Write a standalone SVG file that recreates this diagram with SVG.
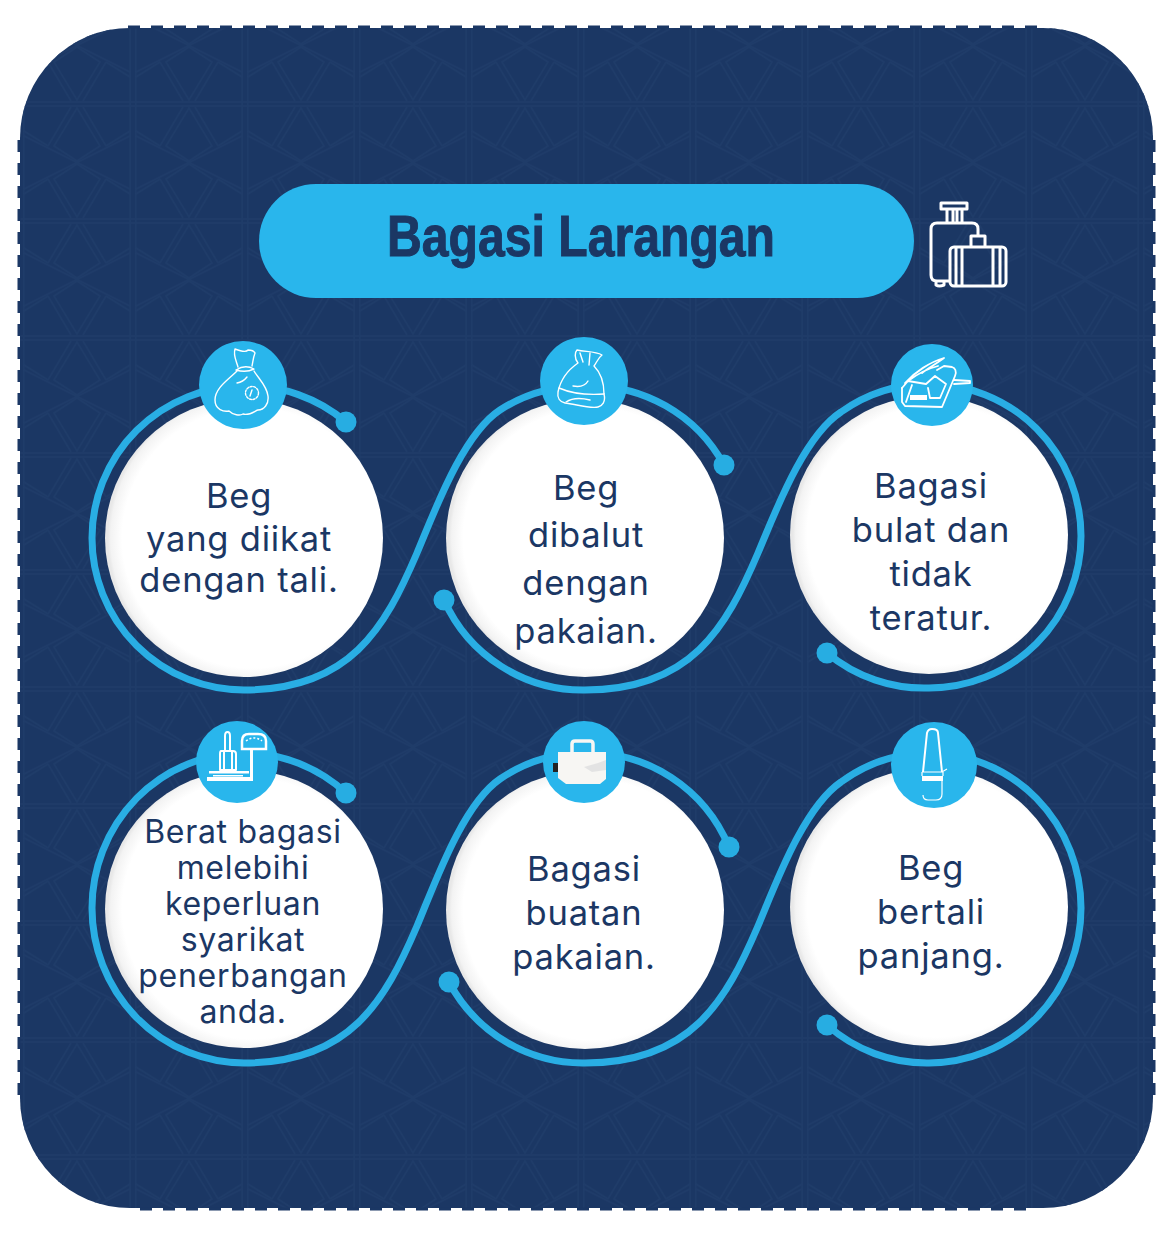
<svg xmlns="http://www.w3.org/2000/svg" width="1173" height="1237" viewBox="0 0 1173 1237">
<style>
.label{font-family:"Inter","Noto Sans",sans-serif;font-size:34.500px;letter-spacing:.8px;fill:#1b3764;text-anchor:middle}
.small{font-size:32px;letter-spacing:.7px}
.disc{fill:url(#disc)}
.badge{fill:#29b6ec}
.line{fill:none;stroke:#29aee4;stroke-width:7;stroke-linecap:round}
.dot{fill:#27ade2}
.ico{fill:none;stroke:#fff;stroke-width:1.4;stroke-linejoin:round;stroke-linecap:round}
.ico2{fill:none;stroke:#fff;stroke-width:3;stroke-linejoin:round}
.solid{fill:#fff}
.edge{stroke:#1b3764;stroke-width:3;stroke-dasharray:12 11;fill:none}
</style>
<defs>
<radialGradient id="disc" cx="0.53" cy="0.5" r="0.52">
<stop offset="0.9" stop-color="#fff"/><stop offset="0.98" stop-color="#f3f3f3"/><stop offset="1" stop-color="#e8e8e8"/>
</radialGradient>
<pattern id="lattice" width="112" height="117" patternUnits="userSpaceOnUse" x="21" y="-13">
<g fill="none" stroke="#1f3c69" stroke-width="1.500">
<path d="M2.800 0V117M109.200 0V117M0 2H112M0 115H112"/>
<path d="M3 32L109 85M3 85L109 32"/>
<path d="M27 42L50 3M85 42L62 3M27 42L3 27M85 42L109 27M56 57L79 42L56 4L33 42Z"/>
<path d="M27 75L50 114M85 75L62 114M27 75L3 90M85 75L109 90M56 60L79 75L56 113L33 75Z"/>
</g>
</pattern>
</defs>
<g id="background">
<rect x="20" y="28" width="1133" height="1180" rx="110" fill="#1b3764"/>
<rect x="20" y="28" width="1133" height="1180" rx="110" fill="url(#lattice)"/>
<path class="edge" d="M128 27H1045M140 1209H1035M19 140V1100M1154 140V1100"/>
</g>
<g id="title">
<rect x="259" y="184" width="655" height="114" rx="57" fill="#29b6ec"/>
<text x="581" y="256" font-family="Liberation Sans Narrow,Liberation Sans,sans-serif" font-size="58" font-weight="700" fill="#1b3764" stroke="#1b3764" stroke-width="1" text-anchor="middle" textLength="388" lengthAdjust="spacingAndGlyphs">Bagasi Larangan</text>
</g>
<g id="luggage-icon" class="ico2">
<path d="M941 203H967V209H941ZM947 209V222M953 209V222M957 209V222M962 209V222"/>
<path d="M949 281H937Q931 281 931 275V229Q931 223 937 223H972Q978 223 978 229V236M936 281V285Q939 287 944 285V281"/>
<path d="M971 246V236H985V246"/>
<rect x="950" y="247" width="56" height="39" rx="4"/>
<path d="M956 247V286M962 247V286M993 247V286M1000 247V286"/>
</g>
<g id="node-1"><circle class="disc" cx="244" cy="538" r="139"/>
<text class="label"><tspan x="239" y="508">Beg</tspan><tspan x="239" y="551">yang diikat</tspan><tspan x="239" y="592">dengan tali.</tspan></text></g>
<g id="node-2"><circle class="disc" cx="585" cy="538" r="139"/>
<text class="label"><tspan x="586" y="500">Beg</tspan><tspan x="586" y="547">dibalut</tspan><tspan x="586" y="595">dengan</tspan><tspan x="586" y="643">pakaian.</tspan></text></g>
<g id="node-3"><circle class="disc" cx="929" cy="535" r="139"/>
<text class="label"><tspan x="931" y="498">Bagasi</tspan><tspan x="931" y="542">bulat dan</tspan><tspan x="931" y="586">tidak</tspan><tspan x="931" y="630">teratur.</tspan></text></g>
<g id="node-4"><circle class="disc" cx="244" cy="909" r="139"/>
<text class="label small"><tspan x="243" y="843">Berat bagasi</tspan><tspan x="243" y="879">melebihi</tspan><tspan x="243" y="915">keperluan</tspan><tspan x="243" y="951">syarikat</tspan><tspan x="243" y="987">penerbangan</tspan><tspan x="243" y="1023">anda.</tspan></text></g>
<g id="node-5"><circle class="disc" cx="585" cy="910" r="139"/>
<text class="label"><tspan x="584" y="881">Bagasi</tspan><tspan x="584" y="925">buatan</tspan><tspan x="584" y="969">pakaian.</tspan></text></g>
<g id="node-6"><circle class="disc" cx="929" cy="907" r="139"/>
<text class="label"><tspan x="931" y="880">Beg</tspan><tspan x="931" y="924">bertali</tspan><tspan x="931" y="968">panjang.</tspan></text></g>
<g id="connectors">
<path class="line" d="M346 422A152 152 0 0 0 244 386A152 152 0 0 0 92 538A152 152 0 0 0 244 690C350 690 385 628 417 553C434 513 462 435 500 410A152 152 0 0 1 585 386A152 152 0 0 1 724 465"/>
<path class="line" d="M444 600A152 152 0 0 0 585 690C691 690 726 628 758 553C775 513 803 437 841 412A152 152 0 0 1 929 384A152 152 0 0 1 1081 536A152 152 0 0 1 929 688A152 152 0 0 1 827 653"/>
<path class="line" d="M346 793A152 155 0 0 0 244 753A152 155 0 0 0 92 908A152 155 0 0 0 244 1063C350 1063 385 1001 417 926C434 886 462 805 500 779A152 155 0 0 1 585 753A152 155 0 0 1 729 847"/>
<path class="line" d="M449 982A152 155 0 0 0 585 1063C691 1063 726 1001 758 926C775 886 803 808 841 782A152 155 0 0 1 929 753A152 155 0 0 1 1081 908A152 155 0 0 1 929 1063A152 155 0 0 1 827 1025"/>
<circle class="dot" cx="346" cy="422" r="10.500"/><circle class="dot" cx="724" cy="465" r="10.500"/><circle class="dot" cx="444" cy="600" r="10.500"/><circle class="dot" cx="827" cy="653" r="10.500"/>
<circle class="dot" cx="346" cy="793" r="10.500"/><circle class="dot" cx="729" cy="847" r="10.500"/><circle class="dot" cx="449" cy="982" r="10.500"/><circle class="dot" cx="827" cy="1025" r="10.500"/>
</g>
<g id="badge-1"><circle class="badge" cx="243" cy="385" r="44"/>
<g class="ico"><path d="M237 371C228 380 215 388 215 400C215 410 224 412 229 411C233 415 240 416 243 414C250 416 256 410 258 410C264 410 269 404 268 396C267 386 258 378 254 371"/>
<path d="M238 367C236 360 233 355 235 349C240 351 246 353 248 350C251 350 254 351 255 353C253 358 253 362 252 366M236 370Q245 364 254 369Q246 373 236 370M237 383Q243 382 247 377"/>
<circle cx="252" cy="393" r="6.500" stroke-dasharray="2 1.500"/><path d="M252 390L250 396"/></g></g>
<g id="badge-2"><circle class="badge" cx="584" cy="381" r="44"/>
<g class="ico"><path d="M578 363C574 358 575 352 577 350C585 352 595 351 602 355C598 358 597 362 594 366C600 372 604 382 604 394C606 402 602 406 598 407C590 409 575 404 565 403C560 402 557 398 558 392C560 382 565 372 578 363Z"/>
<path d="M559 388C575 395 590 395 604 394M566 402C572 398 582 398 590 400M573 386Q584 388 588 381M580 353L583 362M590 353L589 365"/></g></g>
<g id="badge-3"><circle class="badge" cx="932" cy="385" r="41"/>
<g class="ico" style="stroke-width:1.800"><path d="M905 383C915 372 930 362 944 358C936 364 928 368 922 373M908 381C920 372 930 368 938 366M902 388L902 402L905 406L942 407L955 376C957 371 955 368 952 367L944 366L937 370"/>
<path d="M902 388L908 381L926 384L935 376L946 384L940 398L930 398L928 388M912 385L906 402M954 380L970 381L970 383L954 384"/></g>
<rect class="solid" x="910" y="395" width="17" height="5"/></g>
<g id="badge-4"><circle class="badge" cx="237" cy="762" r="41"/>
<g class="ico2" style="stroke-width:2"><path d="M225 752V736Q225 732 227.500 732Q230 732 230 736V752"/><path d="M221 751H233Q236 751 236 754V770H220V754Q220 751 221 751Z"/><path d="M224 770V752M232 770V752"/></g>
<rect class="solid" x="209" y="771" width="40" height="2.500"/><rect class="solid" x="207" y="777" width="46" height="4"/><rect class="solid" x="213" y="775" width="30" height="1.500"/>
<rect class="solid" x="250" y="749" width="3" height="31"/>
<path d="M242 741Q242 734 249 734H258Q266 734 266 741V749H242Z" fill="none" stroke="#fff" stroke-width="2.500"/>
<path d="M246 741Q254 735 262 741" fill="none" stroke="#fff" stroke-width="1.500" stroke-dasharray="2 2"/></g>
<g id="badge-5"><circle class="badge" cx="584" cy="762" r="41"/>
<rect x="553" y="763" width="5" height="9" fill="#222"/>
<path d="M572 752V744Q572 741 575 741H590Q593 741 593 744V752" fill="none" stroke="#f7f6f3" stroke-width="3.500"/>
<path d="M558 752H606V779L600 784H566L558 778Z" fill="#f7f6f3"/>
<path d="M606 760L598 763L584 767L592 772L606 770Z" fill="#e3e3e3"/></g>
<g id="badge-6"><circle class="badge" cx="934" cy="765" r="43"/>
<path d="M923 772L927 733Q928 729 932 729Q938 729 938 733L942 772" fill="none" stroke="#fff" stroke-width="2"/>
<rect class="solid" x="922" y="776" width="21" height="5"/>
<path d="M922 772H942L947 769M922 772V776M943 772V776M942 781V794Q942 800 936 800H928Q923 800 923 795" fill="none" stroke="#fff" stroke-width="1.200"/></g>
</svg>
